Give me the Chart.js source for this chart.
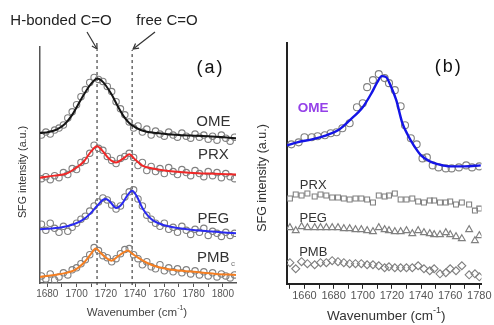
<!DOCTYPE html>
<html>
<head>
<meta charset="utf-8">
<script src="https://cdn.jsdelivr.net/npm/chart.js@4.4.1/dist/chart.umd.min.js"></script>
<style>
  html, body { margin: 0; padding: 0; background: #fff; }
  #wrap { position: relative; width: 494px; height: 325px; overflow: hidden; }
  #panelA { position: absolute; left: 0; top: 0; }
  #panelB { position: absolute; left: 250px; top: 0; }
</style>
</head>
<body>
<div id="wrap">
  <canvas id="panelA" width="250" height="325"></canvas>
  <canvas id="panelB" width="244" height="325"></canvas>
</div>
<script>
// ---- panel (a): measured spectra (open circles) + fits ----
const waveA = [1676,1679,1682,1685,1688,1691,1694,1697,1700,1703,1706,1709,1712,1715,1718,1721,1724,1727,1730,1733,1736,1739,1742,1745,1748,1751,1754,1757,1760,1763,1766,1769,1772,1775,1778,1781,1784,1787,1790,1793,1796,1799,1802,1805,1808];
const omeA = [14.6,14.9,14.7,15.1,15.3,15.6,16.3,16.9,17.6,18.4,19.1,19.8,20.3,20.1,19.9,19.4,18.9,17.9,17.2,16.6,15.9,15.3,15.5,14.9,15.2,14.6,15.0,14.7,14.5,14.9,14.6,14.4,14.8,14.5,14.3,14.7,14.4,14.6,14.2,14.5,14.1,14.6,14.3,14.0,14.4];
const prxA = [10.3,10.5,10.2,10.6,10.4,10.9,10.7,11.3,11.2,11.9,12.1,12.8,13.6,13.3,13.1,12.5,12.1,11.8,12.3,12.5,12.8,12.4,11.6,11.9,11.1,11.5,11.0,11.3,10.8,11.4,11.0,10.7,11.2,10.9,10.6,11.1,10.8,10.5,11.0,10.6,10.9,10.4,10.8,10.5,10.3];
const pegA = [5.8,5.2,5.9,5.4,5.0,5.6,5.1,5.5,5.9,6.3,6.6,7.1,7.6,8.0,8.4,8.2,7.7,7.3,7.6,8.5,9.0,9.2,8.3,7.6,6.7,6.3,5.9,5.6,5.9,5.3,5.5,5.0,5.6,5.2,4.8,5.3,5.0,5.4,4.7,5.1,4.9,4.6,5.0,4.7,4.9];
const pmbA = [0.7,0.4,0.9,0.3,0.6,1.0,0.8,1.3,1.5,1.9,2.3,2.8,3.5,3.2,2.7,2.5,2.1,2.4,2.9,3.3,3.4,2.8,2.4,1.8,2.1,1.6,1.4,1.8,1.2,1.5,1.1,1.4,1.0,1.3,0.9,1.2,0.8,1.1,0.7,1.0,0.6,0.9,0.7,0.5,0.8];

const fitOmeX = [1675,1681,1687,1692,1697,1701,1705,1709,1712,1714,1717,1720,1724,1728,1732,1736,1740,1746,1755,1770,1790,1809];
const fitOmeY = [14.8,14.9,15.2,15.7,16.6,17.6,18.6,19.5,20.0,20.2,20.0,19.5,18.6,17.5,16.5,15.8,15.4,15.0,14.8,14.6,14.5,14.3];
const fitPrxX = [1675,1685,1693,1699,1705,1710,1714,1718,1722,1727,1732,1736,1740,1745,1752,1760,1775,1790,1809];
const fitPrxY = [10.4,10.6,10.8,11.3,12.0,13.0,13.5,13.0,12.3,11.9,12.3,12.7,12.2,11.6,11.3,11.1,10.9,10.8,10.7];
const fitPegX = [1675,1690,1698,1704,1709,1714,1718,1720,1723,1727,1731,1735,1738,1741,1745,1749,1753,1760,1770,1790,1809];
const fitPegY = [5.3,5.5,5.8,6.2,6.8,7.6,8.2,8.3,8.0,7.4,7.8,8.7,9.1,8.6,7.4,6.6,6.1,5.7,5.4,5.1,4.9];
const fitPmbX = [1675,1685,1693,1699,1705,1710,1713,1717,1721,1724,1728,1732,1735,1738,1742,1748,1755,1765,1780,1795,1809];
const fitPmbY = [0.6,0.8,1.0,1.3,2.0,2.9,3.4,2.9,2.4,2.2,2.6,3.0,3.2,2.9,2.5,2.0,1.6,1.3,1.1,0.9,0.8];

const bandsA = [1714, 1738];          // H-bonded C=O, free C=O
const ticksA = [1680,1690,1700,1710,1720,1730,1740,1750,1760,1770,1780,1790,1800];
const labelsA = [1680,1700,1720,1740,1760,1780,1800];

// ---- panel (b) ----
const omeBX = [1651,1656,1660,1665,1669,1674,1678,1682,1686,1691,1696,1700,1703,1707,1711,1715,1718,1722,1726,1729,1733,1737,1741,1744,1748,1752,1757,1761,1766,1771,1775,1780];
const omeBY = [13.9,14.1,14.6,14.6,14.7,14.8,15.0,15.1,15.5,16.0,17.6,18.0,19.6,20.3,20.9,20.5,20.0,19.3,17.7,15.8,14.5,13.9,12.5,12.6,11.8,11.6,11.5,11.5,11.6,11.8,11.6,11.7];
const fitOmeBX = [1648,1655,1665,1675,1683,1691,1700,1706,1710,1713,1716,1719,1723,1727,1731,1735,1740,1746,1752,1760,1770,1781];
const fitOmeBY = [13.8,14.1,14.4,14.8,15.3,16.3,17.6,19.0,20.1,20.7,20.6,19.8,18.3,16.1,14.8,13.8,12.8,12.2,11.9,11.7,11.7,11.8];
const waveB = [1650,1654,1658,1662,1667,1671,1675,1679,1683,1687,1691,1695,1699,1703,1707,1711,1715,1718,1722,1726,1730,1734,1738,1742,1746,1749,1753,1757,1760,1764,1768,1773,1777,1780];
const prxB = [8.5,8.9,8.8,9.0,8.7,8.9,8.8,8.6,8.6,8.5,8.4,8.5,8.5,8.4,8.1,8.8,8.7,8.8,9.0,8.4,8.4,8.5,8.2,8.1,8.3,8.3,8.1,8.1,8.2,7.9,8.1,7.9,7.3,7.5];
const pegB = [5.6,5.3,5.7,5.6,5.6,5.6,5.6,5.6,5.6,5.5,5.5,5.4,5.4,5.3,5.2,5.6,5.4,5.3,5.2,5.2,5.3,5.0,5.3,5.1,5.0,4.9,4.9,5.1,4.9,4.7,4.5,5.4,4.3,4.8];
const pmbB = [2.1,1.5,2.2,2.0,1.9,2.1,2.1,2.3,2.2,2.1,2.0,2.0,2.0,1.9,1.9,1.8,1.6,1.7,1.6,1.6,1.6,1.6,1.8,1.5,1.3,1.5,1.0,1.1,1.5,1.3,1.8,0.9,1.0,0.7];
const ticksB = [1650,1660,1670,1680,1690,1700,1710,1720,1730,1740,1750,1760,1770,1780];
const labelsB = [1660,1680,1700,1720,1740,1760,1780];

const FONT = '"Liberation Sans", Arial, sans-serif';
const pts = (xs, ys) => xs.map((x, i) => ({ x, y: ys[i] }));

function fitSet(xs, ys, color, width) {
  return { data: pts(xs, ys), showLine: true, borderColor: color, borderWidth: width || 2,
    pointRadius: 0, tension: 0.4, cubicInterpolationMode: 'monotone', order: 0 };
}
function markSet(xs, ys, style, r) {
  return { data: pts(xs, ys), showLine: false, pointStyle: style, pointRadius: r,
    pointBorderColor: '#808080', pointBackgroundColor: 'rgba(255,255,255,0)', pointBorderWidth: 1.1, order: 1 };
}

function arrow(ctx, x0, y0, x1, y1) {
  ctx.beginPath(); ctx.moveTo(x0, y0); ctx.lineTo(x1, y1); ctx.stroke();
  const a = Math.atan2(y1 - y0, x1 - x0), h = 6;
  ctx.beginPath();
  ctx.moveTo(x1 - h * Math.cos(a - 0.5), y1 - h * Math.sin(a - 0.5));
  ctx.lineTo(x1, y1);
  ctx.lineTo(x1 - h * Math.cos(a + 0.5), y1 - h * Math.sin(a + 0.5));
  ctx.stroke();
}

// "Wavenumber (cm^-1)" with a real superscript
function waveTitle(ctx, cx, cy, size, color) {
  const main = 'Wavenumber (cm', sup = '-1', end = ')';
  ctx.save();
  ctx.fillStyle = color; ctx.textBaseline = 'middle'; ctx.textAlign = 'left';
  ctx.font = `${size}px ${FONT}`;
  const w1 = ctx.measureText(main).width, w3 = ctx.measureText(end).width;
  ctx.font = `${Math.round(size * 0.65)}px ${FONT}`;
  const w2 = ctx.measureText(sup).width;
  let x = cx - (w1 + w2 + w3) / 2;
  ctx.font = `${size}px ${FONT}`;
  ctx.fillText(main, x, cy); x += w1;
  ctx.font = `${Math.round(size * 0.65)}px ${FONT}`;
  ctx.fillText(sup, x, cy - size * 0.4); x += w2;
  ctx.font = `${size}px ${FONT}`;
  ctx.fillText(end, x, cy);
  ctx.restore();
}

function yTitle(ctx, cx, cy, size, color) {
  ctx.save();
  ctx.translate(cx, cy); ctx.rotate(-Math.PI / 2);
  ctx.fillStyle = color; ctx.textAlign = 'center'; ctx.textBaseline = 'middle';
  ctx.font = `${size}px ${FONT}`;
  ctx.fillText('SFG intensity (a.u.)', 0, 0);
  ctx.restore();
}

function panelTag(ctx, text, cx, cy) {
  ctx.save();
  ctx.fillStyle = '#111'; ctx.textAlign = 'center'; ctx.textBaseline = 'middle';
  ctx.font = `18px ${FONT}`;
  if ('letterSpacing' in ctx) ctx.letterSpacing = '2px';
  ctx.fillText(text, cx, cy);
  ctx.restore();
}

const annotA = {
  id: 'annotA',
  afterDraw(chart) {
    const { ctx, scales: { x, y } } = chart;
    ctx.save();
    ctx.fillStyle = '#222'; ctx.textAlign = 'center'; ctx.textBaseline = 'middle';
    ctx.font = `15px ${FONT}`;
    ctx.fillText('H-bonded C=O', 61, 21);
    ctx.fillText('free C=O', 167, 21);
    ctx.strokeStyle = '#333'; ctx.lineWidth = 1.2;
    const top = y.getPixelForValue(23);
    arrow(ctx, 87, 32, x.getPixelForValue(bandsA[0]), top - 1);
    arrow(ctx, 155, 32, x.getPixelForValue(bandsA[1]) + 1, top - 1);

    ctx.fillStyle = '#333';
    ctx.font = `15px ${FONT}`;
    const lx = x.getPixelForValue(1793.5);
    ctx.fillText('OME', lx, y.getPixelForValue(15.9));
    ctx.fillText('PRX', lx, y.getPixelForValue(12.7));
    ctx.fillText('PEG', lx, y.getPixelForValue(6.3));
    ctx.fillText('PMB', lx, y.getPixelForValue(2.5));
    ctx.font = `8px ${FONT}`;
    ctx.fillStyle = '#777';
    ctx.fillText('c', x.getPixelForValue(1807), y.getPixelForValue(1.9));
    ctx.restore();

    panelTag(ctx, '(a)', x.getPixelForValue(1791.5), y.getPixelForValue(21.2));
    yTitle(ctx, 23, 172, 10.7, '#333');
    waveTitle(ctx, (chart.chartArea.left + chart.chartArea.right) / 2 - 1, 313, 11.5, '#444');
  }
};

const annotB = {
  id: 'annotB',
  afterDraw(chart) {
    const { ctx, scales: { x, y } } = chart;
    ctx.save();
    ctx.textAlign = 'center'; ctx.textBaseline = 'middle';
    const lx = x.getPixelForValue(1666);
    ctx.fillStyle = '#9440e8';
    ctx.font = `bold 13.5px ${FONT}`;
    ctx.fillText('OME', lx, y.getPixelForValue(17.5));
    ctx.fillStyle = '#333';
    ctx.font = `13px ${FONT}`;
    ctx.fillText('PRX', lx, y.getPixelForValue(9.8));
    ctx.fillText('PEG', lx, y.getPixelForValue(6.5));
    ctx.fillText('PMB', lx, y.getPixelForValue(3.1));
    ctx.restore();

    panelTag(ctx, '(b)', x.getPixelForValue(1759), y.getPixelForValue(21.6));
    yTitle(ctx, 13, 178, 12.5, '#333');
    waveTitle(ctx, (chart.chartArea.left + chart.chartArea.right) / 2 + 2, 316, 13.5, '#333');
  }
};

function xScale(min, max, ticks, labels, size, tickLen, color, bw) {
  return {
    type: 'linear', min, max,
    afterBuildTicks: s => { s.ticks = ticks.map(v => ({ value: v })); },
    ticks: { autoSkip: false, maxRotation: 0, padding: 1,
      callback: v => labels.includes(v) ? String(v) : '',
      font: { size, family: FONT }, color: '#555' },
    grid: { drawOnChartArea: false, tickLength: tickLen, color },
    border: { color, width: bw }
  };
}
function yScale(max, color, bw) {
  return { min: 0, max, ticks: { display: false },
    grid: { drawOnChartArea: false, drawTicks: false }, border: { color, width: bw } };
}

new Chart(document.getElementById('panelA'), {
  type: 'scatter',
  data: {
    datasets: [
      fitSet(fitOmeX, fitOmeY, '#151515'),
      fitSet(fitPrxX, fitPrxY, '#f02828'),
      fitSet(fitPegX, fitPegY, '#2a2af0'),
      fitSet(fitPmbX, fitPmbY, '#f57f22'),
      markSet(waveA, omeA, 'circle', 3.2),
      markSet(waveA, prxA, 'circle', 3.2),
      markSet(waveA, pegA, 'circle', 3.2),
      markSet(waveA, pmbA, 'circle', 3.2),
      ...bandsA.map(b => ({ data: [{ x: b, y: -0.2 }, { x: b, y: 23 }], showLine: true, pointRadius: 0,
        borderColor: '#444', borderWidth: 1.2, borderDash: [3, 3], order: 2, clip: false }))
    ]
  },
  options: {
    responsive: false, animation: false,
    layout: { padding: { left: 40, right: 14, top: 47, bottom: 24 } },
    plugins: { legend: { display: false }, tooltip: { enabled: false } },
    scales: {
      x: xScale(1675, 1809, ticksA, labelsA, 10, 4, '#555', 1.5),
      y: yScale(23.3, '#555', 1.5)
    }
  },
  plugins: [annotA]
});

new Chart(document.getElementById('panelB'), {
  type: 'scatter',
  data: {
    datasets: [
      fitSet(fitOmeBX, fitOmeBY, '#1414e6', 2.4),
      markSet(omeBX, omeBY, 'circle', 3.5),
      markSet(waveB, prxB, 'rect', 3.5),
      markSet(waveB, pegB, 'triangle', 4),
      markSet(waveB, pmbB, 'rectRot', 4)
    ]
  },
  options: {
    responsive: false, animation: false,
    layout: { padding: { left: 37, right: 12.5, top: 43, bottom: 21 } },
    plugins: { legend: { display: false }, tooltip: { enabled: false } },
    scales: {
      x: xScale(1648, 1781.5, ticksB, labelsB, 11, 5, '#222', 2),
      y: yScale(24, '#222', 2)
    }
  },
  plugins: [annotB]
});
</script>
</body>
</html>
